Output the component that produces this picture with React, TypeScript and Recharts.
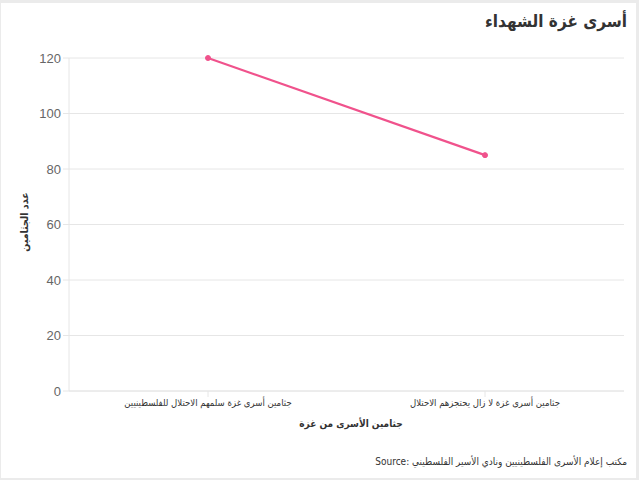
import React from 'react';
import { LineChart, Line, XAxis, YAxis, CartesianGrid } from 'recharts';

const categories = [
  'جثامين أسرى غزة سلمهم الاحتلال للفلسطينيين',
  'جثامين أسرى غزة لا زال يحتجزهم الاحتلال',
];
const values = [120, 85];
const yTicks = [0, 20, 40, 60, 80, 100, 120];

const title = 'أسرى غزة الشهداء';
const xTitle = 'جثامين الأسرى من غزة';
const yTitle = 'عدد الجثامين';
const source = 'Source: مكتب إعلام الأسرى الفلسطينيين ونادي الأسير الفلسطيني';

const data = categories.map((c, i) => ({ name: c, value: values[i] }));

const FONT = '"Liberation Sans", Arial, "DejaVu Sans Condensed", sans-serif';
const AR = '"DejaVu Sans Condensed", "DejaVu Sans", sans-serif';

export default function App() {
  return (
    <div style={{ position: 'absolute', left: 0, top: 0, width: 639, height: 480, background: '#ebebeb', fontFamily: FONT }}>
      <div style={{ position: 'absolute', left: 1, top: 3, width: 635, height: 475, background: '#ffffff' }}>
        <LineChart width={635} height={475} data={data} margin={{ top: 55, right: 12, bottom: 57, left: 0 }}>
          <CartesianGrid stroke="#e6e6e6" vertical={false} />
          <XAxis
            dataKey="name"
            height={30}
            padding={{ left: 139, right: 139 }}
            stroke="#e6e6e6"
            tickLine={{ stroke: '#e6e6e6' }}
            tickSize={6}
            tick={{ fill: '#333', fontSize: 9.5, fontFamily: AR }}
            interval={0}
          />
          <YAxis
            width={68}
            domain={[0, 120]}
            ticks={yTicks}
            stroke="#e6e6e6"
            tickLine={{ stroke: '#e6e6e6' }}
            tickSize={6}
            tick={{ fill: '#666', fontSize: 13, fontFamily: FONT }}
          />
          <Line
            type="linear"
            dataKey="value"
            stroke="#f0528c"
            strokeWidth={2.2}
            dot={{ r: 2.5, fill: '#f0528c', stroke: '#f0528c', strokeWidth: 1 }}
            isAnimationActive={false}
          />
        </LineChart>
      </div>
      <div style={{ position: 'absolute', right: 12, top: 11, fontSize: 17, fontWeight: 'bold', color: '#333', direction: 'rtl', fontFamily: AR }}>{title}</div>
      <div style={{ position: 'absolute', left: 251, width: 200, top: 418, textAlign: 'center', fontSize: 10, fontWeight: 'bold', color: '#333', direction: 'rtl', fontFamily: AR }}>{xTitle}</div>
      <div style={{ position: 'absolute', left: 24, top: 223, width: 0, height: 0 }}>
        <div style={{ position: 'absolute', left: -60, top: -7, width: 120, textAlign: 'center', transform: 'rotate(-90deg)', fontSize: 10.5, fontWeight: 'bold', color: '#333', direction: 'rtl', fontFamily: AR }}>{yTitle}</div>
      </div>
      <div style={{ position: 'absolute', right: 12, top: 456, fontSize: 10, color: '#333', direction: 'ltr', whiteSpace: 'nowrap', fontFamily: AR }}>{source}</div>
    </div>
  );
}
